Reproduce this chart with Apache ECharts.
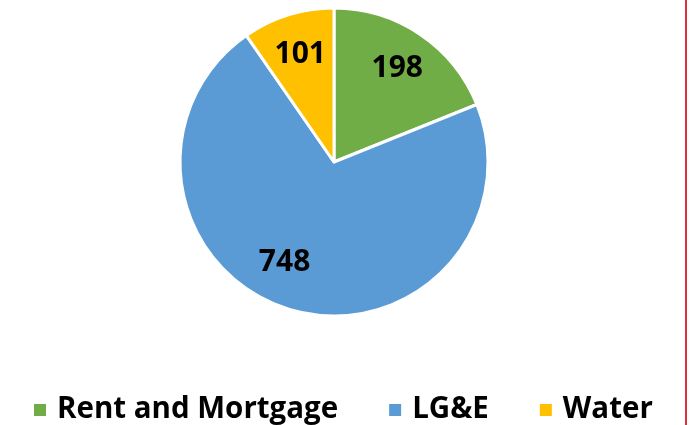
<!DOCTYPE html>
<html>
<head>
<meta charset="utf-8">
<script src="https://cdn.jsdelivr.net/npm/echarts@6/dist/echarts.min.js"></script>
<style>
  html, body { margin: 0; padding: 0; background: #fff; }
  #chart { width: 689px; height: 425px; }
</style>
</head>
<body>
<div id="chart"></div>
<script>
// bill categories and amounts
var categories = ['Rent and Mortgage', 'LG&E', 'Water']
var amounts = [198, 748, 101]
var colors = ['#70AD47', '#5B9BD5', '#FFC000']

var pieData = categories.map(function (name, i) {
  return { name: name, value: amounts[i], itemStyle: { color: colors[i] } }
})

var myChart = echarts.init(document.getElementById('chart'))
var center = [334, 162]
var font = 'Open Sans'
var option = {
  animation: false,
  textStyle: { fontFamily: font },
  legend: {
    data: categories,
    left: 27,
    top: 390,
    icon: 'rect',
    itemWidth: 14,
    itemHeight: 14,
    itemGap: 49,
    textStyle: { fontSize: 29.5, fontWeight: 'bold', color: '#000', fontFamily: font, padding: [0, 0, 0, 5] }
  },
  series: [
    {
      type: 'pie',
      center: center,
      radius: [0, 154],
      startAngle: 90,
      clockwise: true,
      silent: true,
      data: pieData,
      itemStyle: { borderColor: '#fff', borderWidth: 3 },
      label: { show: false },
      labelLine: { show: false }
    },
    {
      // transparent ring only used to place the value labels further out
      type: 'pie',
      center: center,
      radius: [66, 154],
      startAngle: 90,
      clockwise: true,
      silent: true,
      data: pieData.map(function (d, i) {
        var item = { name: d.name, value: d.value, itemStyle: { color: 'rgba(0,0,0,0)' } }
        if (i === 1) item.label = { offset: [-17, -8] }
        return item
      }),
      itemStyle: { borderWidth: 0 },
      label: {
        show: true,
        position: 'inside',
        formatter: '{c}',
        fontSize: 30,
        fontWeight: 'bold',
        color: '#000',
        fontFamily: font
      },
      labelLine: { show: false }
    }
  ],
  graphic: [
    {
      type: 'line',
      shape: { x1: 686, y1: 0, x2: 686, y2: 425 },
      style: { stroke: '#E0313B', lineWidth: 2 }
    }
  ]
}
option && myChart.setOption(option)
window.addEventListener('resize', function () { myChart.resize() })
</script>
</body>
</html>
